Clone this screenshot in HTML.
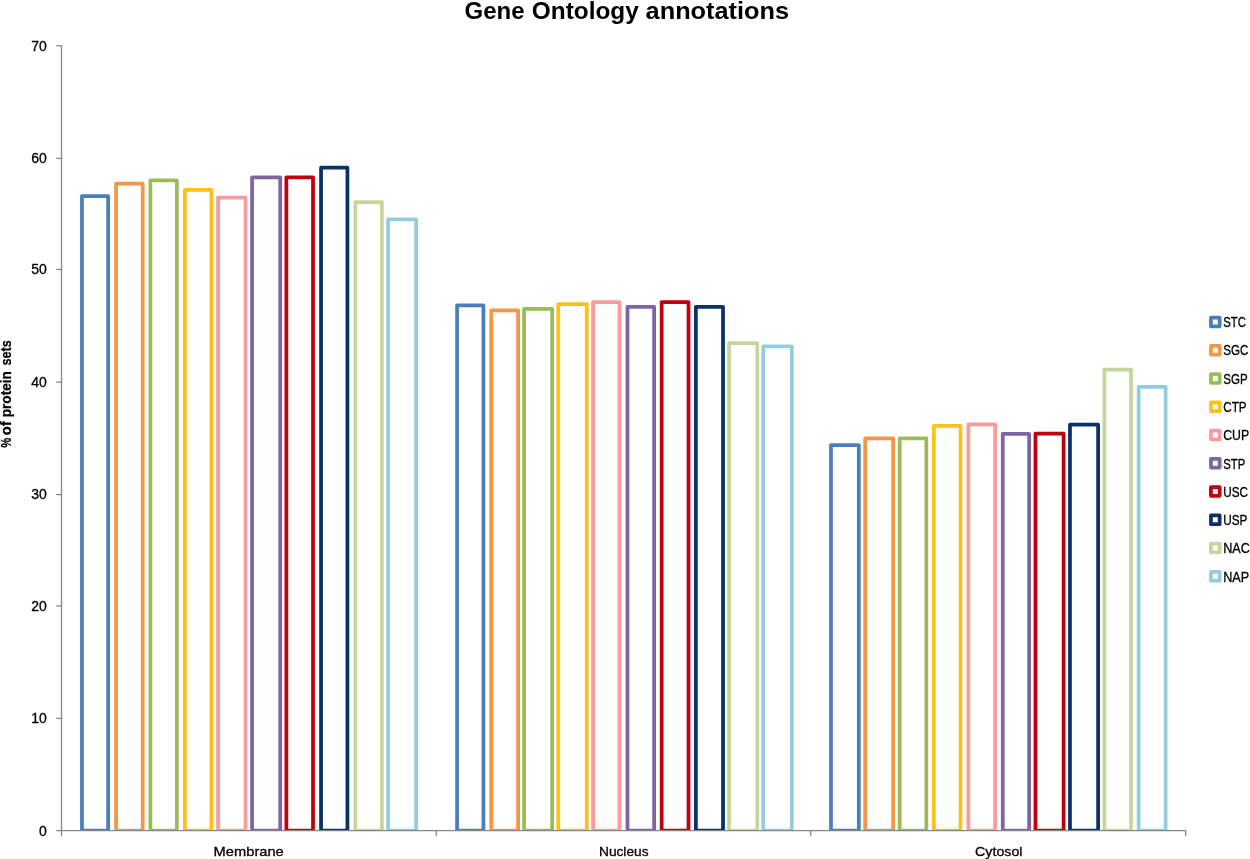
<!DOCTYPE html>
<html lang="en">
<head>
<meta charset="utf-8">
<title>Gene Ontology annotations</title>
<style>
html,body{margin:0;padding:0;background:#fff;}
body{width:1250px;height:859px;overflow:hidden;}
svg{display:block;}
text{font-family:"Liberation Sans",sans-serif;fill:#000;}
.b{fill:none;stroke-width:3.75;stroke-linejoin:round;}
.ax{stroke:#868686;stroke-width:1.3;fill:none;}
.t{font-size:14px;stroke:#000;stroke-width:0.3px;}
.c{font-size:13.5px;stroke:#000;stroke-width:0.3px;}
</style>
</head>
<body>
<svg width="1250" height="859" viewBox="0 0 1250 859">
<rect x="0" y="0" width="1250" height="859" fill="#ffffff"/>
<defs><clipPath id="plot"><rect x="60" y="0" width="1130" height="831.1"/></clipPath></defs>

<text y="19" font-size="24.5px" font-weight="bold"><tspan x="464.6" textLength="60.0" lengthAdjust="spacingAndGlyphs">Gene</tspan> <tspan x="531.8" textLength="107.0" lengthAdjust="spacingAndGlyphs">Ontology</tspan> <tspan x="645.6" textLength="143.5" lengthAdjust="spacingAndGlyphs">annotations</tspan></text>
<g clip-path="url(#plot)">
<rect class="b" x="81.97" y="196.07" width="26.15" height="634.62" stroke="#4A7EBB"/>
<rect class="b" x="116.08" y="183.57" width="26.65" height="647.12" stroke="#F59647"/>
<rect class="b" x="150.38" y="180.28" width="26.45" height="650.43" stroke="#9BBB59"/>
<rect class="b" x="184.88" y="189.88" width="26.55" height="640.83" stroke="#FCC016"/>
<rect class="b" x="218.07" y="197.68" width="27.45" height="633.03" stroke="#FA9A9A"/>
<rect class="b" x="252.07" y="177.28" width="28.15" height="653.43" stroke="#8064A2"/>
<rect class="b" x="286.38" y="177.28" width="26.65" height="653.43" stroke="#C0000C"/>
<rect class="b" x="321.07" y="167.57" width="26.35" height="663.12" stroke="#0B3166"/>
<rect class="b" x="355.38" y="202.18" width="26.55" height="628.53" stroke="#C3D69B"/>
<rect class="b" x="388.07" y="219.47" width="28.05" height="611.23" stroke="#93CDDD"/>
<rect class="b" x="457.07" y="305.48" width="26.35" height="525.23" stroke="#4A7EBB"/>
<rect class="b" x="491.27" y="310.27" width="26.85" height="520.43" stroke="#F59647"/>
<rect class="b" x="524.08" y="308.77" width="28.05" height="521.93" stroke="#9BBB59"/>
<rect class="b" x="558.27" y="304.07" width="28.55" height="526.62" stroke="#FCC016"/>
<rect class="b" x="593.08" y="302.07" width="26.35" height="528.62" stroke="#FA9A9A"/>
<rect class="b" x="627.48" y="306.98" width="26.65" height="523.73" stroke="#8064A2"/>
<rect class="b" x="661.67" y="302.07" width="26.85" height="528.62" stroke="#C0000C"/>
<rect class="b" x="695.88" y="306.98" width="27.15" height="523.73" stroke="#0B3166"/>
<rect class="b" x="729.08" y="343.18" width="28.15" height="487.53" stroke="#C3D69B"/>
<rect class="b" x="763.27" y="346.27" width="28.55" height="484.43" stroke="#93CDDD"/>
<rect class="b" x="830.98" y="445.07" width="27.85" height="385.63" stroke="#4A7EBB"/>
<rect class="b" x="865.17" y="438.38" width="27.95" height="392.33" stroke="#F59647"/>
<rect class="b" x="899.67" y="438.48" width="26.65" height="392.23" stroke="#9BBB59"/>
<rect class="b" x="933.88" y="425.88" width="26.65" height="404.83" stroke="#FCC016"/>
<rect class="b" x="968.38" y="424.38" width="26.75" height="406.33" stroke="#FA9A9A"/>
<rect class="b" x="1002.77" y="433.98" width="26.35" height="396.73" stroke="#8064A2"/>
<rect class="b" x="1035.47" y="433.68" width="28.15" height="397.03" stroke="#C0000C"/>
<rect class="b" x="1069.97" y="424.57" width="28.15" height="406.13" stroke="#0B3166"/>
<rect class="b" x="1104.38" y="369.68" width="26.65" height="461.03" stroke="#C3D69B"/>
<rect class="b" x="1138.67" y="386.88" width="26.95" height="443.83" stroke="#93CDDD"/>
</g>
<path class="ax" d="M61.50 45.1V836.2"/>
<path class="ax" d="M56.2 830.70H1186.3"/>
<path class="ax" d="M56.2 45.75H61.50"/>
<path class="ax" d="M56.2 158.40H61.50"/>
<path class="ax" d="M56.2 269.40H61.50"/>
<path class="ax" d="M56.2 382.15H61.50"/>
<path class="ax" d="M56.2 494.60H61.50"/>
<path class="ax" d="M56.2 605.90H61.50"/>
<path class="ax" d="M56.2 718.40H61.50"/>
<path class="ax" d="M436.30 830.70V836"/>
<path class="ax" d="M810.70 830.70V836"/>
<path class="ax" d="M1185.70 830.70V836"/>
<text class="t" x="31.2" y="50.50" textLength="15.6" lengthAdjust="spacingAndGlyphs">70</text>
<text class="t" x="31.2" y="163.15" textLength="15.6" lengthAdjust="spacingAndGlyphs">60</text>
<text class="t" x="31.2" y="274.15" textLength="15.6" lengthAdjust="spacingAndGlyphs">50</text>
<text class="t" x="31.2" y="386.90" textLength="15.6" lengthAdjust="spacingAndGlyphs">40</text>
<text class="t" x="31.2" y="499.35" textLength="15.6" lengthAdjust="spacingAndGlyphs">30</text>
<text class="t" x="31.2" y="610.65" textLength="15.6" lengthAdjust="spacingAndGlyphs">20</text>
<text class="t" x="31.2" y="723.15" textLength="15.6" lengthAdjust="spacingAndGlyphs">10</text>
<text class="t" x="38.9" y="835.60" textLength="7.8" lengthAdjust="spacingAndGlyphs">0</text>
<text class="c" x="213.6" y="856" textLength="70.2" lengthAdjust="spacingAndGlyphs">Membrane</text>
<text class="c" x="599.0" y="856" textLength="49.5" lengthAdjust="spacingAndGlyphs">Nucleus</text>
<text class="c" x="975.1" y="856" textLength="47.4" lengthAdjust="spacingAndGlyphs">Cytosol</text>
<text font-size="14.5px" font-weight="bold" stroke="#000" stroke-width="0.25" transform="translate(11.2 447.7) rotate(-90)"><tspan x="0.0" textLength="10.0" lengthAdjust="spacingAndGlyphs">%</tspan> <tspan x="12.4" textLength="14.0" lengthAdjust="spacingAndGlyphs">of</tspan> <tspan x="30.4" textLength="46.2" lengthAdjust="spacingAndGlyphs">protein</tspan> <tspan x="82.2" textLength="25.2" lengthAdjust="spacingAndGlyphs">sets</tspan></text>
<rect class="b" x="1210.95" y="317.55" width="8.7" height="8.7" stroke="#4A7EBB" stroke-width="3.9"/>
<text class="t" x="1223.2" y="327.20" textLength="22.6" lengthAdjust="spacingAndGlyphs">STC</text>
<rect class="b" x="1210.95" y="345.82" width="8.7" height="8.7" stroke="#F59647" stroke-width="3.9"/>
<text class="t" x="1223.2" y="355.47" textLength="25.2" lengthAdjust="spacingAndGlyphs">SGC</text>
<rect class="b" x="1210.95" y="374.09" width="8.7" height="8.7" stroke="#9BBB59" stroke-width="3.9"/>
<text class="t" x="1223.2" y="383.74" textLength="24.4" lengthAdjust="spacingAndGlyphs">SGP</text>
<rect class="b" x="1210.95" y="402.36" width="8.7" height="8.7" stroke="#FCC016" stroke-width="3.9"/>
<text class="t" x="1223.2" y="412.01" textLength="23.4" lengthAdjust="spacingAndGlyphs">CTP</text>
<rect class="b" x="1210.95" y="430.63" width="8.7" height="8.7" stroke="#FA9A9A" stroke-width="3.9"/>
<text class="t" x="1223.2" y="440.28" textLength="26.0" lengthAdjust="spacingAndGlyphs">CUP</text>
<rect class="b" x="1210.95" y="458.90" width="8.7" height="8.7" stroke="#8064A2" stroke-width="3.9"/>
<text class="t" x="1223.2" y="468.55" textLength="22.0" lengthAdjust="spacingAndGlyphs">STP</text>
<rect class="b" x="1210.95" y="487.17" width="8.7" height="8.7" stroke="#C0000C" stroke-width="3.9"/>
<text class="t" x="1223.2" y="496.82" textLength="24.8" lengthAdjust="spacingAndGlyphs">USC</text>
<rect class="b" x="1210.95" y="515.44" width="8.7" height="8.7" stroke="#0B3166" stroke-width="3.9"/>
<text class="t" x="1223.2" y="525.09" textLength="24.2" lengthAdjust="spacingAndGlyphs">USP</text>
<rect class="b" x="1210.95" y="543.71" width="8.7" height="8.7" stroke="#C3D69B" stroke-width="3.9"/>
<text class="t" x="1223.2" y="553.36" textLength="26.8" lengthAdjust="spacingAndGlyphs">NAC</text>
<rect class="b" x="1210.95" y="571.98" width="8.7" height="8.7" stroke="#93CDDD" stroke-width="3.9"/>
<text class="t" x="1223.2" y="581.63" textLength="26.0" lengthAdjust="spacingAndGlyphs">NAP</text>
</svg>
</body>
</html>
